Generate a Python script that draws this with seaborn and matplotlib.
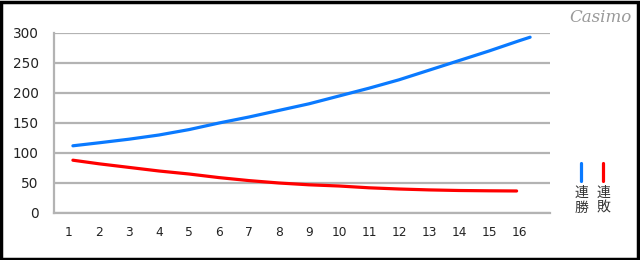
import matplotlib
matplotlib.use("Agg")
import matplotlib.pyplot as plt
import seaborn as sns
import pandas as pd
from matplotlib.lines import Line2D
from matplotlib.patches import Rectangle

# ---- data ----
categories = list(range(1, 17))
win_x = [1.13, 2, 3, 4, 5, 6, 7, 8, 9, 10, 11, 12, 13, 14, 15, 16, 16.37]
win_vals = [112, 117, 123, 130, 139, 150, 160, 171, 182, 195, 208, 222, 238, 254, 270, 287, 293]
lose_x = [1.13, 2, 3, 4, 5, 6, 7, 8, 9, 10, 11, 12, 13, 14, 15, 15.92]
lose_vals = [88, 82, 76, 70, 65, 59, 54, 50, 47, 45, 42, 40, 38.5, 37.5, 37, 36.7]
series_names = ["連勝", "連敗"]
y_ticks = [0, 50, 100, 150, 200, 250, 300]

df = pd.concat([
    pd.DataFrame({"x": win_x, "v": win_vals, "s": series_names[0]}),
    pd.DataFrame({"x": lose_x, "v": lose_vals, "s": series_names[1]}),
])

sns.set_theme(style="white")
plt.rcParams["font.family"] = ["DejaVu Sans", "Noto Sans CJK JP"]

fig = plt.figure(figsize=(6.4, 2.6), dpi=100)
ax = fig.add_axes([54/640, 47/260, 496/640, 180/260])

colors = {"連勝": "#0a7aff", "連敗": "#ff0000"}
sns.lineplot(data=df, x="x", y="v", hue="s", palette=colors, ax=ax,
             estimator=None, sort=True, legend=False, linewidth=2.3)

gray = "#b3b3b3"
ax.set_xlim(0.5, 17.033)
ax.set_ylim(0, 300)
ax.set_yticks(y_ticks)
ax.set_yticklabels([str(t) for t in y_ticks], fontsize=9.8, color="#222222")
ax.set_xticks([c - 0.5 for c in categories] + [16.5])
ax.set_xticklabels([])
ax.set_xticks(categories, minor=True)
ax.set_xticklabels([str(c) for c in categories], minor=True, fontsize=8.8, color="#222222")
ax.tick_params(axis="x", which="major", direction="out", length=4, width=1.3, color=gray)
ax.tick_params(axis="x", which="minor", length=0, pad=9.5)
ax.tick_params(axis="y", direction="out", length=5, width=1.3, color=gray, pad=6)
ax.set_xlabel("")
ax.set_ylabel("")
ax.grid(axis="y", color=gray, linewidth=1.6)
ax.set_axisbelow(True)
for side in ["top", "right"]:
    ax.spines[side].set_visible(False)
for side in ["left", "bottom"]:
    ax.spines[side].set_color(gray)
    ax.spines[side].set_linewidth(1.6)

# legend (vertical Japanese text)
for i, name in enumerate(series_names):
    xf = (581 + 22 * i) / 640
    fig.add_artist(Line2D([xf, xf], [1 - 163/260, 1 - 181/260], color=colors[name],
                          linewidth=2.3, transform=fig.transFigure))
    fig.text(xf, 1 - 186/260, "\n".join(name), ha="center", va="top", fontsize=10,
             linespacing=1.05, family=["Noto Sans CJK JP", "DejaVu Sans"], color="#333333")

# logo
fig.text(600/640, 1 - 17/260, "Casimo", ha="center", va="center", fontsize=12,
         family="DejaVu Serif", style="italic", color="#9a9a9a")

# frame
fig.add_artist(Rectangle((0.0015, 0.004), 0.9955, 0.99, transform=fig.transFigure,
                         fill=False, edgecolor="black", linewidth=2.5))

fig.savefig("out.png", dpi=100)
